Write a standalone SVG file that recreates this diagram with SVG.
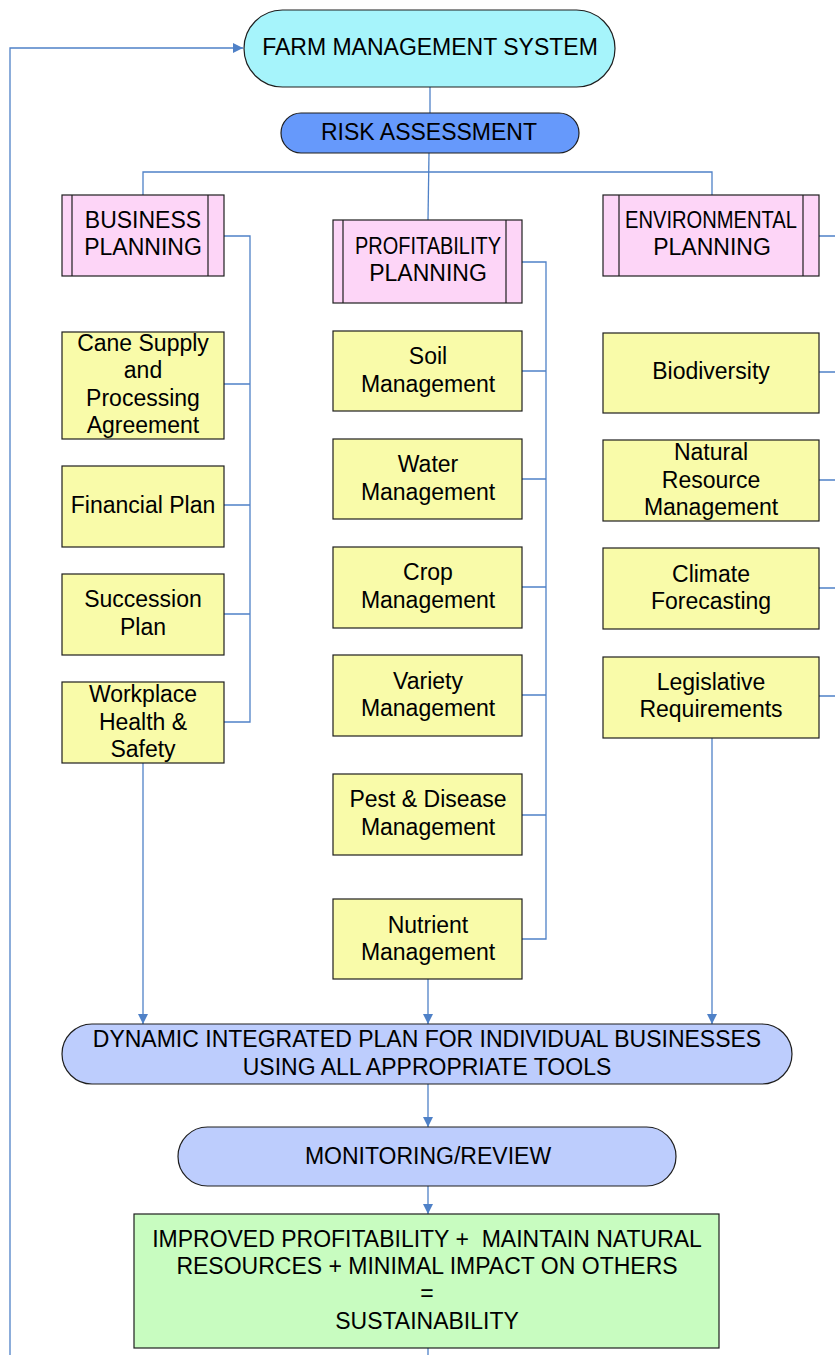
<svg xmlns="http://www.w3.org/2000/svg" width="835" height="1355" viewBox="0 0 835 1355">
<defs>
<style>
text{font-family:"Liberation Sans",Arial,sans-serif;font-size:23px;fill:#000;text-anchor:middle}
.box{stroke:#1e1e1e;stroke-width:1.2}
.pink{fill:#fdd5f7}
.yel{fill:#f9fba9}
.sub{stroke:#1e1e1e;stroke-width:1.2;fill:none}
.con{stroke:#4f81c7;stroke-width:1.3;fill:none}
</style>
<marker id="arr" viewBox="0 0 10 10" refX="10" refY="5" markerWidth="10" markerHeight="10" markerUnits="userSpaceOnUse" orient="auto">
<path d="M0,0 L10,5 L0,10 z" fill="#4f81c7"/>
</marker>
</defs>
<rect width="835" height="1355" fill="#fff"/>

<g id="connectors">
<path class="con" d="M10,1355 V48 H243" marker-end="url(#arr)"/>
<path class="con" d="M430,87 V113"/>
<path class="con" d="M429,153 L428,220"/>
<path class="con" d="M143,195 V172 H712 V195"/>
<path class="con" d="M224,236 H250 V722 H224 M224,384 H250 M224,505 H250 M224,614 H250"/>
<path class="con" d="M522,262 H546 V939 H522 M522,371 H546 M522,479 H546 M522,587 H546 M522,695 H546 M522,815 H546"/>
<path class="con" d="M819,236 H835 M819,372 H835 M819,480 H835 M819,588 H835 M819,696 H835"/>
<path class="con" d="M143,763 V1024" marker-end="url(#arr)"/>
<path class="con" d="M428,979 V1024" marker-end="url(#arr)"/>
<path class="con" d="M712,738 V1024" marker-end="url(#arr)"/>
<path class="con" d="M428,1084 V1127" marker-end="url(#arr)"/>
<path class="con" d="M428,1186 V1214" marker-end="url(#arr)"/>
<path class="con" d="M428,1348 V1355"/>
</g>

<g id="farm-management-system">
<rect class="box" x="244" y="10" width="371" height="77" rx="38.5" fill="#a6f4fb"/>
<text x="430" y="55">FARM MANAGEMENT SYSTEM</text>
</g>
<g id="risk-assessment">
<rect class="box" x="281" y="113" width="298" height="40" rx="20" fill="#6699fb"/>
<text x="429" y="140">RISK ASSESSMENT</text>
</g>

<g id="business-planning">
<rect class="box pink" x="62" y="195" width="162" height="81"/>
<path class="sub" d="M72,195 V276 M208,195 V276"/>
<text x="143" y="228">BUSINESS</text>
<text x="143" y="255">PLANNING</text>
</g>
<g id="profitability-planning">
<rect class="box pink" x="333" y="220" width="189" height="83"/>
<path class="sub" d="M343,220 V303 M506,220 V303"/>
<text x="428" y="254" textLength="146" lengthAdjust="spacingAndGlyphs">PROFITABILITY</text>
<text x="428" y="281">PLANNING</text>
</g>
<g id="environmental-planning">
<rect class="box pink" x="603" y="195" width="216" height="81"/>
<path class="sub" d="M619,195 V276 M803,195 V276"/>
<text x="711" y="228" textLength="172" lengthAdjust="spacingAndGlyphs">ENVIRONMENTAL</text>
<text x="712" y="255">PLANNING</text>
</g>

<g id="cane-supply">
<rect class="box yel" x="62" y="332" width="162" height="107"/>
<text x="143" y="351">Cane Supply</text>
<text x="143" y="378">and</text>
<text x="143" y="406">Processing</text>
<text x="143" y="433">Agreement</text>
</g>
<g id="financial-plan">
<rect class="box yel" x="62" y="466" width="162" height="81"/>
<text x="143" y="513">Financial Plan</text>
</g>
<g id="succession-plan">
<rect class="box yel" x="62" y="574" width="162" height="81"/>
<text x="143" y="607">Succession</text>
<text x="143" y="635">Plan</text>
</g>
<g id="workplace-health-safety">
<rect class="box yel" x="62" y="682" width="162" height="81"/>
<text x="143" y="702">Workplace</text>
<text x="143" y="730">Health &amp;</text>
<text x="143" y="757">Safety</text>
</g>

<g id="soil-management">
<rect class="box yel" x="333" y="331" width="189" height="80"/>
<text x="428" y="364">Soil</text>
<text x="428" y="392">Management</text>
</g>
<g id="water-management">
<rect class="box yel" x="333" y="439" width="189" height="80"/>
<text x="428" y="472">Water</text>
<text x="428" y="500">Management</text>
</g>
<g id="crop-management">
<rect class="box yel" x="333" y="547" width="189" height="81"/>
<text x="428" y="580">Crop</text>
<text x="428" y="608">Management</text>
</g>
<g id="variety-management">
<rect class="box yel" x="333" y="655" width="189" height="81"/>
<text x="428" y="689">Variety</text>
<text x="428" y="716">Management</text>
</g>
<g id="pest-disease-management">
<rect class="box yel" x="333" y="774" width="189" height="81"/>
<text x="428" y="807">Pest &amp; Disease</text>
<text x="428" y="835">Management</text>
</g>
<g id="nutrient-management">
<rect class="box yel" x="333" y="899" width="189" height="80"/>
<text x="428" y="933">Nutrient</text>
<text x="428" y="960">Management</text>
</g>

<g id="biodiversity">
<rect class="box yel" x="603" y="333" width="216" height="80"/>
<text x="711" y="379">Biodiversity</text>
</g>
<g id="natural-resource-management">
<rect class="box yel" x="603" y="440" width="216" height="81"/>
<text x="711" y="460">Natural</text>
<text x="711" y="488">Resource</text>
<text x="711" y="515">Management</text>
</g>
<g id="climate-forecasting">
<rect class="box yel" x="603" y="548" width="216" height="81"/>
<text x="711" y="582">Climate</text>
<text x="711" y="609">Forecasting</text>
</g>
<g id="legislative-requirements">
<rect class="box yel" x="603" y="657" width="216" height="81"/>
<text x="711" y="690">Legislative</text>
<text x="711" y="717">Requirements</text>
</g>

<g id="dynamic-integrated-plan">
<rect class="box" x="62" y="1024" width="730" height="60" rx="30" fill="#bdcdfd"/>
<text x="427" y="1047">DYNAMIC INTEGRATED PLAN FOR INDIVIDUAL BUSINESSES</text>
<text x="427" y="1075">USING ALL APPROPRIATE TOOLS</text>
</g>
<g id="monitoring-review">
<rect class="box" x="178" y="1127" width="498" height="59" rx="29.5" fill="#bdcdfd"/>
<text x="428" y="1164">MONITORING/REVIEW</text>
</g>
<g id="sustainability">
<rect class="box" x="134" y="1214" width="585" height="134" fill="#c8fcc0"/>
<text x="427" y="1247" style="white-space:pre">IMPROVED PROFITABILITY +  MAINTAIN NATURAL</text>
<text x="427" y="1274">RESOURCES + MINIMAL IMPACT ON OTHERS</text>
<text x="427" y="1301">=</text>
<text x="427" y="1329">SUSTAINABILITY</text>
</g>
</svg>
